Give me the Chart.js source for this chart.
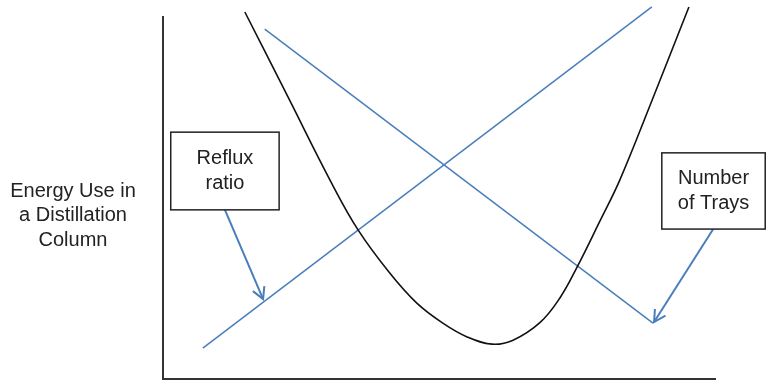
<!DOCTYPE html>
<html>
<head>
<meta charset="utf-8">
<script src="https://cdn.jsdelivr.net/npm/chart.js@4/dist/chart.umd.min.js"></script>
<style>
  html, body { margin: 0; padding: 0; background: #fff; }
  #wrap { width: 767px; height: 380px; position: relative; }
</style>
</head>
<body>
<div id="wrap"><canvas id="chart"></canvas></div>
<script>
// Values (arbitrary units, 0..100 on both axes)
const energyX = [14.8, 22.6, 30.2, 35.3, 41.0, 45.9, 50.6, 55.0, 59.5, 63.3, 68.2, 71.8, 74.9, 79.0, 82.6, 88.1, 95.1];
const energyY = [101.1, 77.7, 54.8, 41.0, 29.2, 20.9, 15.4, 11.6, 9.6, 10.7, 15.6, 22.4, 30.9, 43.5, 54.8, 75.5, 102.5];

const refluxX = [7.2, 88.4];
const refluxY = [8.5, 102.5];

const traysX = [18.4, 88.6];
const traysY = [96.4, 15.4];

// callout arrows: tail at the box, head on the line
const refluxArrowX = [11.2, 18.1];
const refluxArrowY = [46.6, 22.0];
const traysArrowX = [99.5, 88.8];
const traysArrowY = [41.3, 15.7];

const yAxisLabel = ['Energy Use in', 'a Distillation', 'Column'];
const refluxLabel = ['Reflux', 'ratio'];
const traysLabel = ['Number', 'of Trays'];

// callout boxes in data units: [x1, x2, yTop, yBottom]
const refluxBox = [1.4, 21.0, 68.0, 46.6];
const traysBox = [90.2, 108.9, 62.3, 41.3];

const blue = '#4a7ebb';
const font = '20px "Liberation Sans", Arial, sans-serif';

function pts(xs, ys) {
  return xs.map((x, i) => ({ x: x, y: ys[i] }));
}

const calloutPlugin = {
  id: 'callouts',
  afterDatasetsDraw(chart) {
    const ctx = chart.ctx;
    const xs = chart.scales.x, ys = chart.scales.y;
    const area = chart.chartArea;

    // axes
    ctx.save();
    ctx.strokeStyle = '#333';
    ctx.lineWidth = 2;
    ctx.beginPath();
    ctx.moveTo(area.left, area.top);
    ctx.lineTo(area.left, area.bottom);
    ctx.lineTo(area.right, area.bottom);
    ctx.stroke();

    // arrowheads
    [[refluxArrowX, refluxArrowY], [traysArrowX, traysArrowY]].forEach(([ax, ay]) => {
      const x0 = xs.getPixelForValue(ax[0]), y0 = ys.getPixelForValue(ay[0]);
      const x1 = xs.getPixelForValue(ax[1]), y1 = ys.getPixelForValue(ay[1]);
      const ang = Math.atan2(y1 - y0, x1 - x0);
      const len = 13, spread = 0.5;
      ctx.strokeStyle = blue;
      ctx.lineWidth = 2;
      ctx.beginPath();
      ctx.moveTo(x1 - len * Math.cos(ang - spread), y1 - len * Math.sin(ang - spread));
      ctx.lineTo(x1, y1);
      ctx.lineTo(x1 - len * Math.cos(ang + spread), y1 - len * Math.sin(ang + spread));
      ctx.stroke();
    });

    // boxes with text
    ctx.font = font;
    ctx.textAlign = 'center';
    ctx.textBaseline = 'middle';
    [[refluxBox, refluxLabel], [traysBox, traysLabel]].forEach(([b, lines]) => {
      const l = xs.getPixelForValue(b[0]), r = xs.getPixelForValue(b[1]);
      const t = ys.getPixelForValue(b[2]), btm = ys.getPixelForValue(b[3]);
      ctx.fillStyle = '#fff';
      ctx.fillRect(l, t, r - l, btm - t);
      ctx.strokeStyle = '#222';
      ctx.lineWidth = 1.5;
      ctx.strokeRect(l, t, r - l, btm - t);
      ctx.fillStyle = '#222';
      const cx = (l + r) / 2, cy = (t + btm) / 2;
      lines.forEach((s, i) => {
        ctx.fillText(s, cx, cy + (i - (lines.length - 1) / 2) * 25);
      });
    });

    // y axis title
    ctx.fillStyle = '#222';
    const cy = (area.top + area.bottom) / 2 + 18;
    yAxisLabel.forEach((s, i) => {
      ctx.fillText(s, 73, cy + (i - 1) * 24.5);
    });
    ctx.restore();
  }
};

new Chart(document.getElementById('chart'), {
  type: 'scatter',
  data: {
    datasets: [
      {
        data: pts(energyX, energyY),
        showLine: true,
        borderColor: '#111',
        borderWidth: 1.6,
        pointRadius: 0,
        tension: 0.4,
        clip: false
      },
      {
        data: pts(refluxX, refluxY),
        showLine: true,
        borderColor: blue,
        borderWidth: 1.5,
        pointRadius: 0,
        clip: false
      },
      {
        data: pts(traysX, traysY),
        showLine: true,
        borderColor: blue,
        borderWidth: 1.5,
        pointRadius: 0,
        clip: false
      },
      {
        data: pts(refluxArrowX, refluxArrowY),
        showLine: true,
        borderColor: blue,
        borderWidth: 2,
        pointRadius: 0,
        clip: false
      },
      {
        data: pts(traysArrowX, traysArrowY),
        showLine: true,
        borderColor: blue,
        borderWidth: 2,
        pointRadius: 0,
        clip: false
      }
    ]
  },
  options: {
    responsive: true,
    maintainAspectRatio: false,
    animation: false,
    layout: { padding: { left: 163, right: 51, top: 16, bottom: 1 } },
    scales: {
      x: { type: 'linear', min: 0, max: 100, display: false },
      y: { type: 'linear', min: 0, max: 100, display: false }
    },
    plugins: {
      legend: { display: false },
      tooltip: { enabled: false }
    }
  },
  plugins: [calloutPlugin]
});
</script>
</body>
</html>
